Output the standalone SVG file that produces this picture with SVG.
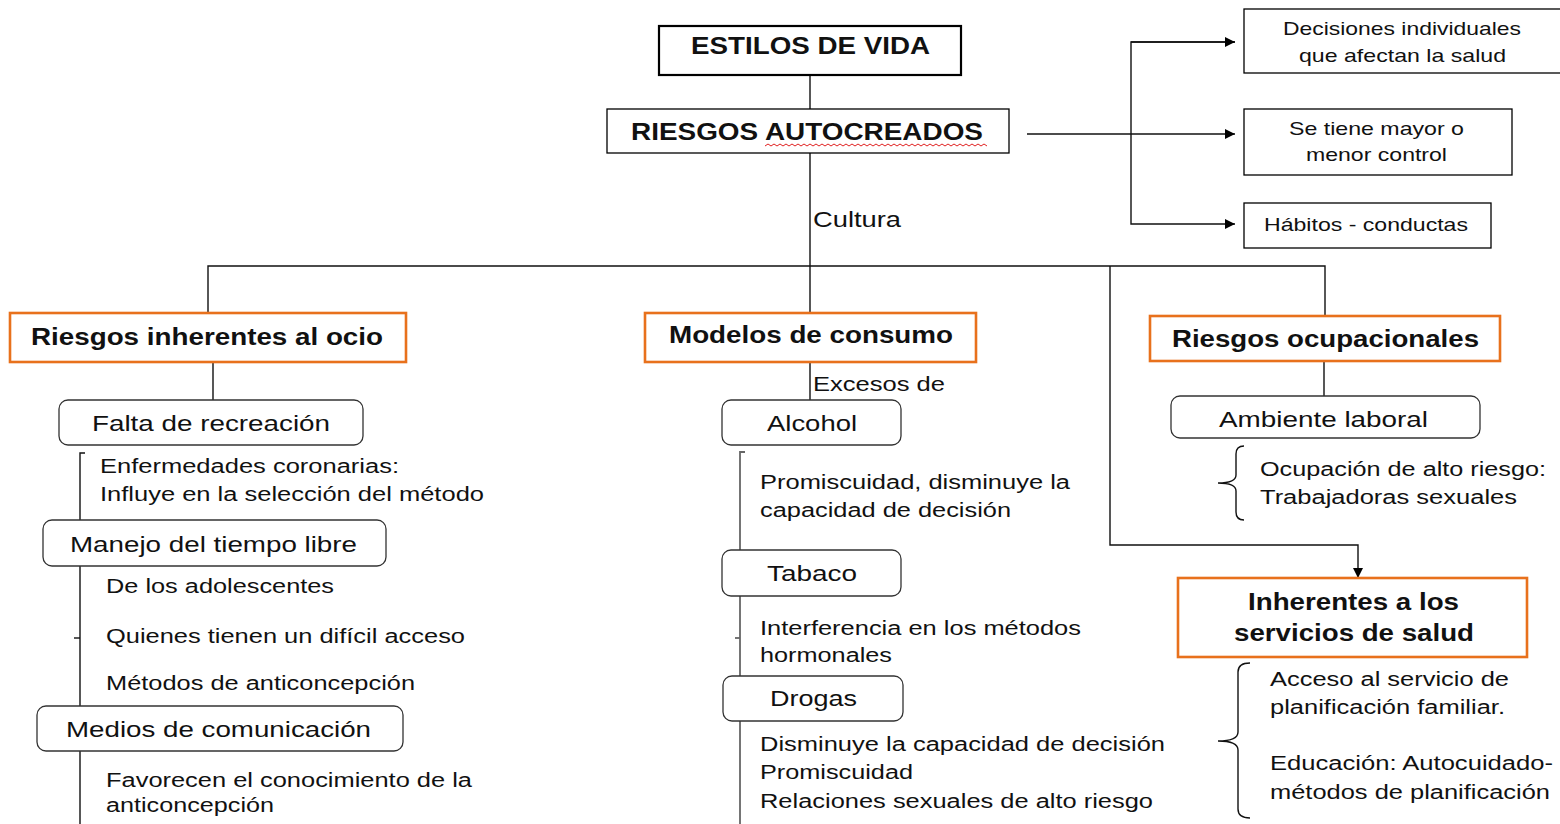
<svg xmlns="http://www.w3.org/2000/svg" width="1560" height="824" viewBox="0 0 1560 824">
<defs>
<style>
text{font-family:"Liberation Sans",Arial,sans-serif;fill:#111;}
.b{font-weight:bold;font-size:23px;}
.m{font-size:22px;}
.s{font-size:20px;}
.r{font-size:19px;}
.box{fill:#fff;stroke:#000;stroke-width:1.3;}
.box2{fill:#fff;stroke:#000;stroke-width:2.2;}
.or{fill:#fff;stroke:#E8711C;stroke-width:2.6;}
.rd{fill:#fff;stroke:#333;stroke-width:1.3;}
.ln{fill:none;stroke:#111;stroke-width:1.4;}
.gl{fill:none;stroke:#666;stroke-width:1.8;}
</style>
<marker id="ar" viewBox="0 0 10 10" refX="10" refY="5" markerWidth="10" markerHeight="10" markerUnits="userSpaceOnUse" orient="auto">
<path d="M0,0 L10,5 L0,10 z" fill="#000"/>
</marker>
</defs>
<rect width="1560" height="824" fill="#fff"/>

<g id="connectors">
<line class="ln" x1="810" y1="75" x2="810" y2="109"/>
<line class="ln" x1="810" y1="153" x2="810" y2="313"/>
<polyline class="ln" points="208,313 208,266 1325,266 1325,316"/>
<polyline class="ln" points="1110,266 1110,545 1358,545 1358,578" marker-end="url(#ar)"/>
<line class="ln" x1="1027" y1="134" x2="1235" y2="134" marker-end="url(#ar)"/>
<polyline class="ln" points="1235,42 1131,42 1131,224 1235,224" marker-end="url(#ar)"/>
<line class="ln" x1="1131" y1="42" x2="1235" y2="42" marker-end="url(#ar)"/>
<line class="ln" x1="213" y1="362" x2="213" y2="400"/>
<line class="ln" x1="810" y1="362" x2="810" y2="400"/>
<line class="ln" x1="1324" y1="361" x2="1324" y2="396"/>
<polyline class="ln" points="85,453 80,453 80,520"/>
<line class="ln" x1="80" y1="566" x2="80" y2="706"/>
<line class="ln" x1="74" y1="638" x2="80" y2="638"/>
<line class="ln" x1="80" y1="751" x2="80" y2="824"/>
<polyline class="gl" points="745,452 740,452 740,550"/>
<line class="gl" x1="740" y1="596" x2="740" y2="676"/>
<line class="gl" x1="735" y1="638" x2="740" y2="638"/>
<line class="gl" x1="740" y1="721" x2="740" y2="824"/>
<path class="ln" d="M1244,446 Q1236,446 1236,454 L1236,475 Q1236,483 1218,483 Q1236,483 1236,491 L1236,512 Q1236,520 1244,520"/>
<path class="ln" d="M1250,663 Q1238,663 1238,672 L1238,732 Q1238,741 1218,741 Q1238,741 1238,750 L1238,809 Q1238,818 1250,818"/>
</g>

<g id="estilos">
<rect class="box2" x="659" y="26" width="302" height="49"/>
<text class="b" x="691" y="54" textLength="239" lengthAdjust="spacingAndGlyphs">ESTILOS DE VIDA</text>
</g>
<g id="riesgos-autocreados">
<rect class="box" x="607" y="109" width="402" height="44"/>
<text class="b" x="631" y="140" textLength="352" lengthAdjust="spacingAndGlyphs">RIESGOS AUTOCREADOS</text>
<path d="M765,146 l3,-2 l3,2 l3,-2 l3,2 l3,-2 l3,2 l3,-2 l3,2 l3,-2 l3,2 l3,-2 l3,2 l3,-2 l3,2 l3,-2 l3,2 l3,-2 l3,2 l3,-2 l3,2 l3,-2 l3,2 l3,-2 l3,2 l3,-2 l3,2 l3,-2 l3,2 l3,-2 l3,2 l3,-2 l3,2 l3,-2 l3,2 l3,-2 l3,2 l3,-2 l3,2 l3,-2 l3,2 l3,-2 l3,2 l3,-2 l3,2 l3,-2 l3,2 l3,-2 l3,2 l3,-2 l3,2 l3,-2 l3,2 l3,-2 l3,2 l3,-2 l3,2 l3,-2 l3,2 l3,-2 l3,2 l3,-2 l3,2 l3,-2 l3,2 l3,-2 l3,2 l3,-2 l3,2 l3,-2 l3,2 l3,-2 l3,2 l3,-2 l3,2" fill="none" stroke="#e02020" stroke-width="1"/>
</g>
<text id="label-cultura" class="m" x="813" y="227" textLength="88" lengthAdjust="spacingAndGlyphs">Cultura</text>

<g id="decisiones">
<rect class="box" x="1244" y="9" width="318" height="64"/>
<text class="r" x="1283" y="35" textLength="238" lengthAdjust="spacingAndGlyphs">Decisiones individuales</text>
<text class="r" x="1299" y="62" textLength="207" lengthAdjust="spacingAndGlyphs">que afectan la salud</text>
</g>
<g id="control">
<rect class="box" x="1244" y="109" width="268" height="66"/>
<text class="r" x="1289" y="135" textLength="175" lengthAdjust="spacingAndGlyphs">Se tiene mayor o</text>
<text class="r" x="1306" y="161" textLength="141" lengthAdjust="spacingAndGlyphs">menor control</text>
</g>
<g id="habitos">
<rect class="box" x="1244" y="203" width="247" height="45"/>
<text class="r" x="1264" y="231" textLength="204" lengthAdjust="spacingAndGlyphs">Hábitos - conductas</text>
</g>

<g id="ocio">
<rect class="or" x="10" y="313" width="396" height="49"/>
<text class="b" x="31" y="345" textLength="352" lengthAdjust="spacingAndGlyphs">Riesgos inherentes al ocio</text>
</g>
<g id="consumo">
<rect class="or" x="645" y="313" width="331" height="49"/>
<text class="b" x="669" y="343" textLength="284" lengthAdjust="spacingAndGlyphs">Modelos de consumo</text>
</g>
<g id="ocupacionales">
<rect class="or" x="1150" y="316" width="350" height="45"/>
<text class="b" x="1172" y="347" textLength="307" lengthAdjust="spacingAndGlyphs">Riesgos ocupacionales</text>
</g>
<g id="servicios">
<rect class="or" x="1178" y="578" width="349" height="79"/>
<text class="b" x="1248" y="610" textLength="211" lengthAdjust="spacingAndGlyphs">Inherentes a los</text>
<text class="b" x="1234" y="641" textLength="240" lengthAdjust="spacingAndGlyphs">servicios de salud</text>
</g>

<g id="falta">
<rect class="rd" x="59" y="400" width="304" height="45" rx="9"/>
<text class="m" x="92" y="431" textLength="238" lengthAdjust="spacingAndGlyphs">Falta de recreación</text>
</g>
<g id="falta-detalle">
<text class="s" x="100" y="473" textLength="299" lengthAdjust="spacingAndGlyphs">Enfermedades coronarias:</text>
<text class="s" x="100" y="501" textLength="384" lengthAdjust="spacingAndGlyphs">Influye en la selección del método</text>
</g>
<g id="manejo">
<rect class="rd" x="43" y="520" width="343" height="46" rx="9"/>
<text class="m" x="70" y="552" textLength="287" lengthAdjust="spacingAndGlyphs">Manejo del tiempo libre</text>
</g>
<g id="manejo-detalle">
<text class="s" x="106" y="593" textLength="228" lengthAdjust="spacingAndGlyphs">De los adolescentes</text>
<text class="s" x="106" y="643" textLength="359" lengthAdjust="spacingAndGlyphs">Quienes tienen un difícil acceso</text>
<text class="s" x="106" y="690" textLength="309" lengthAdjust="spacingAndGlyphs">Métodos de anticoncepción</text>
</g>
<g id="medios">
<rect class="rd" x="37" y="706" width="366" height="45" rx="9"/>
<text class="m" x="66" y="737" textLength="305" lengthAdjust="spacingAndGlyphs">Medios de comunicación</text>
</g>
<g id="medios-detalle">
<text class="s" x="106" y="787" textLength="366" lengthAdjust="spacingAndGlyphs">Favorecen el conocimiento de la</text>
<text class="s" x="106" y="812" textLength="168" lengthAdjust="spacingAndGlyphs">anticoncepción</text>
</g>

<text id="label-excesos" class="s" x="813" y="391" textLength="132" lengthAdjust="spacingAndGlyphs">Excesos de</text>
<g id="alcohol">
<rect class="rd" x="722" y="400" width="179" height="45" rx="9"/>
<text class="m" x="767" y="431" textLength="90" lengthAdjust="spacingAndGlyphs">Alcohol</text>
</g>
<g id="alcohol-detalle">
<text class="s" x="760" y="489" textLength="310" lengthAdjust="spacingAndGlyphs">Promiscuidad, disminuye la</text>
<text class="s" x="760" y="517" textLength="251" lengthAdjust="spacingAndGlyphs">capacidad de decisión</text>
</g>
<g id="tabaco">
<rect class="rd" x="722" y="550" width="179" height="46" rx="9"/>
<text class="m" x="767" y="581" textLength="90" lengthAdjust="spacingAndGlyphs">Tabaco</text>
</g>
<g id="tabaco-detalle">
<text class="s" x="760" y="635" textLength="321" lengthAdjust="spacingAndGlyphs">Interferencia en los métodos</text>
<text class="s" x="760" y="662" textLength="132" lengthAdjust="spacingAndGlyphs">hormonales</text>
</g>
<g id="drogas">
<rect class="rd" x="723" y="676" width="180" height="45" rx="9"/>
<text class="m" x="770" y="706" textLength="87" lengthAdjust="spacingAndGlyphs">Drogas</text>
</g>
<g id="drogas-detalle">
<text class="s" x="760" y="751" textLength="405" lengthAdjust="spacingAndGlyphs">Disminuye la capacidad de decisión</text>
<text class="s" x="760" y="779" textLength="153" lengthAdjust="spacingAndGlyphs">Promiscuidad</text>
<text class="s" x="760" y="808" textLength="393" lengthAdjust="spacingAndGlyphs">Relaciones sexuales de alto riesgo</text>
</g>

<g id="ambiente">
<rect class="rd" x="1171" y="396" width="309" height="42" rx="9"/>
<text class="m" x="1219" y="427" textLength="209" lengthAdjust="spacingAndGlyphs">Ambiente laboral</text>
</g>
<g id="ambiente-detalle">
<text class="s" x="1260" y="476" textLength="286" lengthAdjust="spacingAndGlyphs">Ocupación de alto riesgo:</text>
<text class="s" x="1260" y="504" textLength="257" lengthAdjust="spacingAndGlyphs">Trabajadoras sexuales</text>
</g>
<g id="servicios-detalle">
<text class="s" x="1270" y="686" textLength="239" lengthAdjust="spacingAndGlyphs">Acceso al servicio de</text>
<text class="s" x="1270" y="714" textLength="235" lengthAdjust="spacingAndGlyphs">planificación familiar.</text>
<text class="s" x="1270" y="770" textLength="283" lengthAdjust="spacingAndGlyphs">Educación: Autocuidado-</text>
<text class="s" x="1270" y="799" textLength="280" lengthAdjust="spacingAndGlyphs">métodos de planificación</text>
</g>
</svg>
